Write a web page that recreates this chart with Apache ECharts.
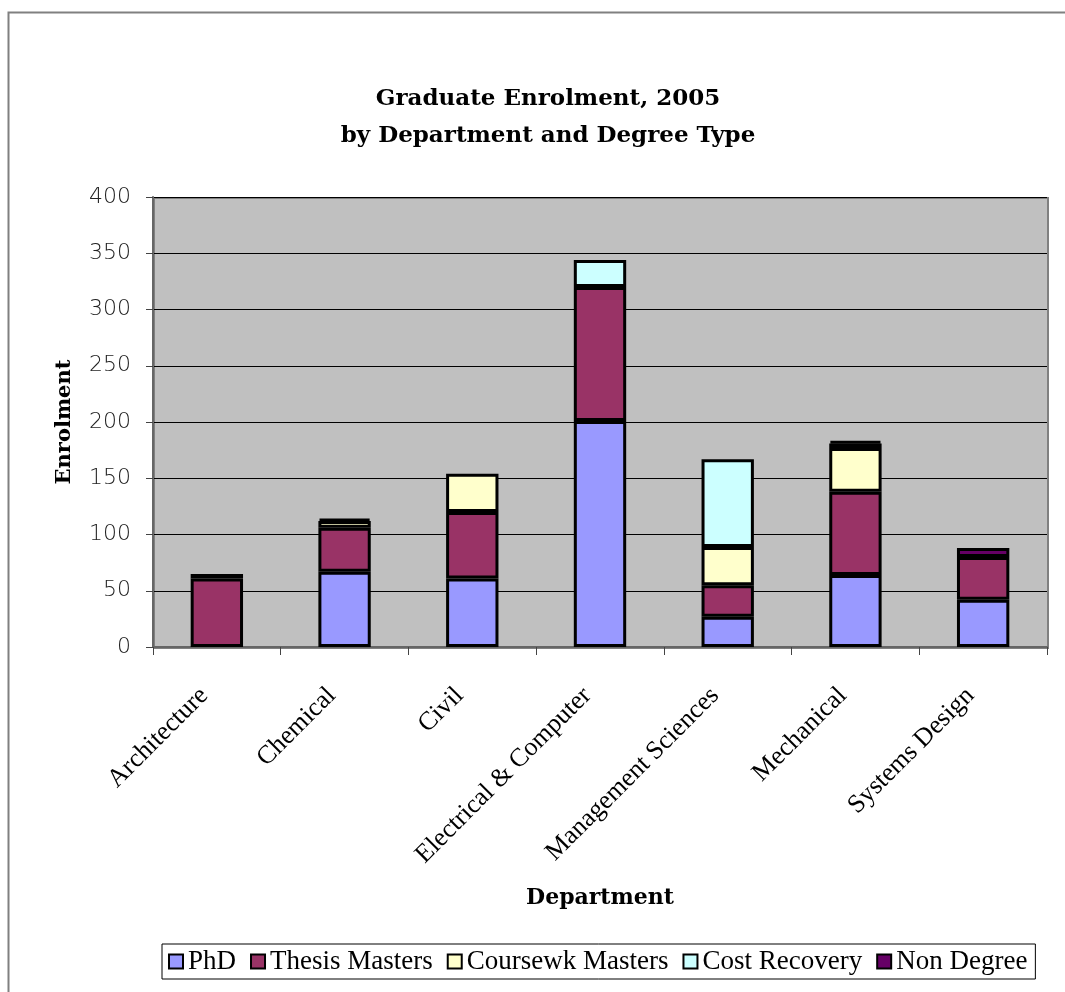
<!DOCTYPE html>
<html>
<head>
<meta charset="utf-8">
<title>Graduate Enrolment, 2005</title>
<script src="https://cdn.jsdelivr.net/npm/echarts@6/dist/echarts.min.js"></script>
<style>
  html, body { margin: 0; padding: 0; background: #ffffff; }
  #chart { width: 1065px; height: 992px; }
</style>
</head>
<body>
<div id="chart"></div>
<script>
// Departments along the category axis
const departments = ['Architecture', 'Chemical', 'Civil', 'Electrical & Computer',
  'Management Sciences', 'Mechanical', 'Systems Design'];

// Enrolment by degree type, one value per department
const phd          = [0,   67, 61, 201, 27, 64, 42];
const thesisMsc    = [61,  39, 59, 119, 28, 74, 38];
const courseworkMsc= [0,   6,  34, 0,   34, 39, 0];
const costRecovery = [0,   0,  0,  24,  78, 4,  0];
const nonDegree    = [4,   2,  0,  0,   0,  2,  8];

const seriesNames = ['PhD', 'Thesis Masters', 'Coursewk Masters', 'Cost Recovery', 'Non Degree'];
const seriesData  = [phd, thesisMsc, courseworkMsc, costRecovery, nonDegree];
const seriesColors = ['#9999FF', '#993366', '#FFFFCC', '#CCFFFF', '#660066'];

const yTicks = { min: 0, max: 400, interval: 50 };

const serif = '"Liberation Serif", "DejaVu Serif", serif';
const boldSerif = '"DejaVu Serif", "Liberation Serif", serif';

const chart = echarts.init(document.getElementById('chart'), null, { renderer: 'canvas' });

chart.setOption({
  backgroundColor: '#ffffff',
  animation: false,
  graphic: [
    // outer chart frame
    { type: 'rect', left: 6, top: 10, shape: { width: 1080, height: 1000 },
      style: { fill: 'none', stroke: '#808080', lineWidth: 2 }, z: -1 },
    // plot area background and frame
    { type: 'rect', left: 153, top: 197, shape: { width: 894, height: 450 },
      style: { fill: '#C0C0C0', stroke: '#808080', lineWidth: 2 }, z: -1 }
  ],
  title: {
    text: 'Graduate Enrolment, 2005\nby Department and Degree Type',
    left: 543, top: 76, textAlign: 'center',
    textStyle: { fontFamily: boldSerif, fontWeight: 'bold', fontSize: 23, lineHeight: 37, color: '#000' }
  },
  legend: {
    data: seriesNames,
    left: 162, top: 944,
    itemWidth: 14, itemHeight: 14, itemGap: 14,
    icon: 'rect',
    padding: [4, 8, 4, 6],
    borderColor: '#000', borderWidth: 1,
    backgroundColor: '#fff',
    textStyle: { fontFamily: serif, fontSize: 27, color: '#000', padding: [0, 0, 0, 0] },
    itemStyle: { borderColor: '#000', borderWidth: 2 }
  },
  grid: { left: 153, right: 18, top: 197, bottom: 345, containLabel: false },
  xAxis: {
    type: 'category',
    data: departments,
    name: 'Department',
    nameLocation: 'middle',
    nameGap: 240,
    nameTextStyle: { fontFamily: boldSerif, fontWeight: 'bold', fontSize: 22, color: '#000' },
    axisLine: { lineStyle: { color: '#666', width: 2 } },
    axisTick: { show: true, inside: false, length: 8, alignWithLabel: false, lineStyle: { color: '#444', width: 1 } },
    axisLabel: { rotate: 45, margin: 32, interval: 0, fontFamily: serif, fontSize: 26, color: '#000',
      padding: [0, 18, 0, 0] },
    splitLine: { show: false }
  },
  yAxis: {
    type: 'value',
    min: yTicks.min, max: yTicks.max, interval: yTicks.interval,
    name: 'Enrolment',
    nameLocation: 'middle',
    nameGap: 78,
    nameRotate: 90,
    nameTextStyle: { fontFamily: boldSerif, fontWeight: 'bold', fontSize: 21, color: '#000' },
    axisLine: { show: true, lineStyle: { color: '#666', width: 2 } },
    axisTick: { show: true, inside: false, length: 7, lineStyle: { color: '#444', width: 1 } },
    axisLabel: { margin: 22, fontFamily: '"DejaVu Sans", sans-serif', fontWeight: 200, fontSize: 22, color: '#222' },
    splitLine: { show: true, lineStyle: { color: '#000', width: 1 } }
  },
  series: seriesNames.map((name, i) => ({
    name: name,
    type: 'bar',
    stack: 'enrolment',
    barWidth: '41%',
    // empty segments are left out so they leave no border line
    data: seriesData[i].map(v => (v === 0 ? null : v)),
    itemStyle: { color: seriesColors[i], borderColor: '#000', borderWidth: 3 }
  }))
});
</script>
</body>
</html>
